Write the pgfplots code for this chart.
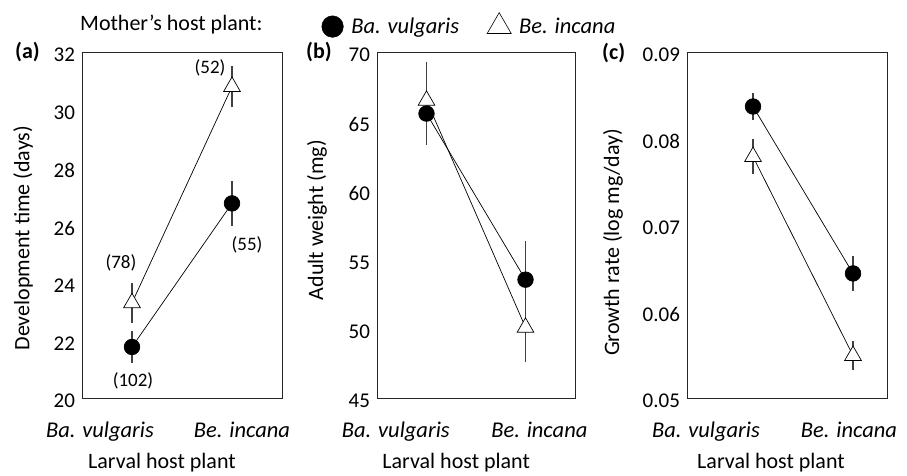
\documentclass[border=0pt]{standalone}
\usepackage{fontspec}
\setmainfont{Carlito}
\usepackage{pgfplots}
\pgfplotsset{compat=1.18}

\pgfplotsset{
  panel/.style={
    scale only axis, width=200pt, height=346pt,
    axis line style={line width=0.7pt, black!85},
    major tick length=0pt,
    xmin=-0.5, xmax=1.5,
    /pgf/number format/assume math mode=true,
    yticklabel style={font=\fontsize{21}{25}\selectfont, xshift=-3.5pt, yshift=-3pt},
    xticklabel style={font=\fontsize{22.5}{26}\selectfont\itshape, yshift=-20pt},
    xticklabels={Ba. vulgaris, Be. incana},
    label style={font=\fontsize{22}{26}\selectfont},
    clip=false,
  },
  errs/.style={only marks, mark=none, forget plot,
    error bars/.cd, y dir=both, y explicit,
    error mark=none, error bar style={line width=1.1pt, black!75}},
  circ/.style={black, line width=0.7pt, mark=*, mark size=7.8pt,
    mark options={fill=black}, forget plot},
  tri/.style={black, line width=0.7pt, mark=triangle*, mark size=9.6pt,
    mark options={fill=white, draw=black, line width=0.7pt}, forget plot},
}

\begin{document}
\begin{tikzpicture}
\useasboundingbox (0pt,0pt) rectangle (907pt,475pt);

% panel (a)
\begin{axis}[panel, name=pa, at={(82pt,77pt)}, anchor=south west,
  ymin=20, ymax=32, ytick={20,22,...,32},
  xtick={-0.32,1.1},
  ylabel={Development time (days)},
  ylabel style={at={(axis description cs:-0.295,0.462)}, anchor=center},
  xlabel={Larval host plant},
  xlabel style={at={(axis description cs:0.40,-0.159)}, anchor=north, inner sep=0pt},
]
\addplot[errs] table[x=x, y=y, y error=e] {
x y e
0 21.77 0.55
1 26.75 0.77
};
\addplot[errs] table[x=x, y=y, y error=e] {
x y e
0 23.3 0.7
1 30.8 0.7
};
\addplot[tri] coordinates {(0,23.3) (1,30.8)};
\addplot[circ] coordinates {(0,21.77) (1,26.75)};
\node[font=\fontsize{19}{22}\selectfont] at (axis cs:0.78,31.44) {(52)};
\node[font=\fontsize{19}{22}\selectfont] at (axis cs:-0.11,24.67) {(78)};
\node[font=\fontsize{19}{22}\selectfont] at (axis cs:0.01,20.61) {(102)};
\node[font=\fontsize{19}{22}\selectfont] at (axis cs:1.15,25.30) {(55)};
\end{axis}

% panel (b)
\begin{axis}[panel, name=pb, at={(377pt,77pt)}, anchor=south west, width=198pt,
  ymin=45, ymax=70, ytick={45,50,...,70},
  xtick={-0.31,1.14},
  ylabel={Adult weight (mg)},
  ylabel style={at={(axis description cs:-0.303,0.514)}, anchor=center},
  xlabel={Larval host plant},
  xlabel style={at={(axis description cs:0.40,-0.159)}, anchor=north, inner sep=0pt},
  legend style={at={(axis description cs:-0.28,1.078)}, anchor=west,
    draw=none, fill=none, legend columns=-1, inner sep=0pt,
    font=\fontsize{22.5}{26}\selectfont\itshape,
    /tikz/every odd column/.append style={column sep=6pt},
    /tikz/every even column/.append style={column sep=26pt}},
  legend image code/.code={\draw[#1] plot coordinates {(0pt,0pt)};},
]
\addplot[errs] table[x=x, y=y, y error=e] {
x y e
0 66.5 2.8
1 50.1 2.5
};
\addplot[errs] table[x=x, y=y, y error=e] {
x y e
0 65.55 2.25
1 53.55 2.8
};
\addplot[tri] coordinates {(0,66.5) (1,50.1)};
\addplot[circ] coordinates {(0,65.55) (1,53.55)};
\addlegendimage{only marks, mark=*, mark size=10.8pt, black}
\addlegendentry{Ba. vulgaris}
\addlegendimage{only marks, mark=triangle, mark size=13.9pt, black, line width=0.6pt}
\addlegendentry{Be. incana}
\end{axis}

% panel (c)
\begin{axis}[panel, name=pc, at={(687pt,77pt)}, anchor=south west,
  xmin=-0.66, xmax=1.34,
  ymin=0.05, ymax=0.09, ytick={0.05,0.06,0.07,0.08,0.09},
  scaled y ticks=false,
  yticklabel style={/pgf/number format/.cd, fixed, fixed zerofill, precision=2},
  xtick={-0.47,0.96},
  ylabel={Growth rate (log mg/day)},
  ylabel style={at={(axis description cs:-0.37,0.45)}, anchor=center},
  xlabel={Larval host plant},
  xlabel style={at={(axis description cs:0.42,-0.159)}, anchor=north, inner sep=0pt},
]
\addplot[errs] table[x=x, y=y, y error=e] {
x y e
0 0.0837 0.0016
1 0.0644 0.0020
};
\addplot[errs] table[x=x, y=y, y error=e] {
x y e
0 0.0779 0.0020
1 0.0549 0.0017
};
\addplot[tri] coordinates {(0,0.0779) (1,0.0549)};
\addplot[circ] coordinates {(0,0.0837) (1,0.0644)};
\end{axis}

\node[anchor=base west, inner sep=0pt, font=\fontsize{22}{26}\selectfont] at (80pt,444pt) {Mother’s host plant:};
\node[anchor=base west, inner sep=0pt, font=\fontsize{22}{26}\selectfont\bfseries] at (15pt,416pt) {(a)};
\node[anchor=base west, inner sep=0pt, font=\fontsize{22}{26}\selectfont\bfseries] at (306pt,416pt) {(b)};
\node[anchor=base west, inner sep=0pt, font=\fontsize{22}{26}\selectfont\bfseries] at (602pt,415pt) {(c)};
\end{tikzpicture}
\end{document}
